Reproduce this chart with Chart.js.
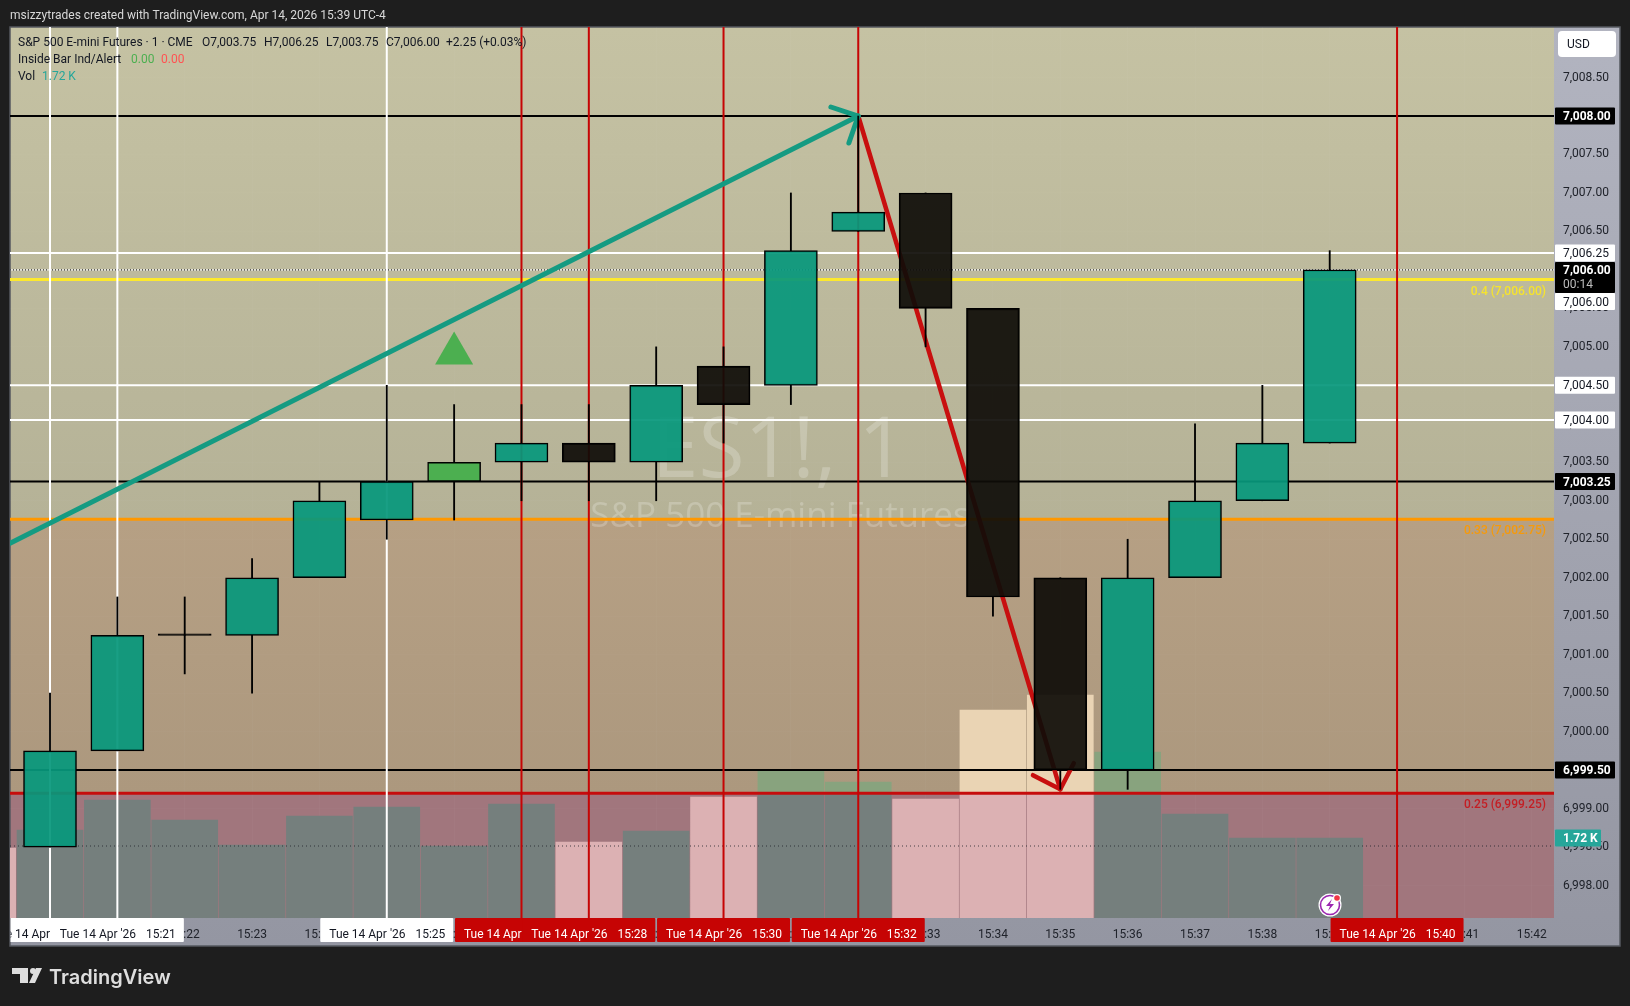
<!DOCTYPE html>
<html>
<head>
<meta charset="utf-8">
<title>ES1! 1m</title>
<style>html,body{margin:0;padding:0;background:#1e1e1e;overflow:hidden}canvas{display:block}</style>
<script src="https://cdn.jsdelivr.net/npm/chart.js@4"></script>
</head>
<body>
<canvas id="c" width="1630" height="1006" style="width:1630px;height:1006px"></canvas>
<script>
// ---- data ----
const candleTimes = ['15:20','15:21','15:22','15:23','15:24','15:25','15:26','15:27','15:28','15:29','15:30','15:31','15:32','15:33','15:34','15:35','15:36','15:37','15:38','15:39'];
const opens  = [6998.5,6999.75,7001.25,7001.25,7002,7002.75,7003.25,7003.5,7003.75,7003.5,7004.75,7004.5,7006.5,7007,7005.5,7002,6999.5,7002,7003,7003.75];
const highs  = [7000.5,7001.75,7001.75,7002.25,7003.25,7004.5,7004.25,7004.25,7004.25,7005,7005,7007,7008,7007,7005.5,7002,7002.5,7004,7004.5,7006.25];
const lows   = [6998.5,6999.75,7000.75,7000.5,7002,7002.5,7002.75,7003,7003,7003,7003.75,7004.25,7006.5,7005,7001.5,6999.25,6999.25,7002,7003,7003.75];
const closes = [6999.75,7001.25,7001.25,7002,7003,7003.25,7003.5,7003.75,7003.5,7004.5,7004.25,7006.25,7006.75,7005.5,7001.75,6999.5,7002,7003,7003.75,7006];
const volumeTimes = ['15:19','15:20','15:21','15:22','15:23','15:24','15:25','15:26','15:27','15:28','15:29','15:30','15:31','15:32','15:33','15:34','15:35','15:36','15:37','15:38','15:39'];
const volumesK = [1.505,1.892,2.537,2.107,1.57,2.193,2.387,1.548,2.451,1.634,1.87,2.6,3.182,2.924,2.559,4.472,4.795,3.569,2.236,1.72,1.72];
const volumeDown = [true,false,false,false,false,false,false,false,false,true,false,true,false,false,true,true,true,false,false,false,false];
const xTickMinutes = [20,21,22,23,24,25,26,27,28,29,30,31,32,33,34,35,36,37,38,39,40,41,42];
const yTop = 7009.1566, yBottom = 6997.578;
const xLeft = 19.406, xRight = 42.33;
const volTop = 19.157;
const blackLevels = [7008, 7003.25, 6999.5];
const whiteLevels = [7006.22, 7004.5, 7004.05];
const fibYellow = 7005.875, fibOrange = 7002.76, fibRed = 6999.2;
const lastClose = 7006, volDotted = 1.548;
const whiteVerticals = [20, 21, 25];
const redVerticals = [27, 28, 30, 32, 40];
const tealLineX = [19.406, 32], tealLineY = [7002.447, 7008];
const tealHeadX = [31.594, 32, 31.861], tealHeadY = [7008.117, 7008, 7007.649];
const redLineX = [32, 35], redLineY = [7008, 6999.25];
const redHeadX = [34.594, 35, 35.2], redHeadY = [6999.434, 6999.25, 6999.59];
const signalX = [26], signalY = [7004.915];
const tagDate = "Tue 14 Apr '26";
const whiteTagMinutes = [20, 21, 25];
const redTagMinutes = [27, 28, 30, 32, 40];

const UP = 'rgba(8,152,124,0.93)', DOWN = 'rgba(14,12,8,0.92)', INSIDE = '#4caf50';
const RED = '#c60404', TEAL = '#159b82';
const FONT = 'Roboto, sans-serif';
const minute = t => +t.slice(3);
const fmt = v => v.toLocaleString('en-US',{minimumFractionDigits:2,maximumFractionDigits:2});

const hLine = (level, color, width, dash, order, axis) => ({
  type:'line', data:[{x:xLeft,y:level},{x:xRight,y:level}], yAxisID:axis||'y',
  borderColor:color, borderWidth:width, borderDash:dash||[], pointRadius:0, order
});
const vLine = (x, color) => ({
  type:'line', data:[{x,y:yBottom},{x,y:yTop}], yAxisID:'y',
  borderColor:color, borderWidth:2, pointRadius:0, order:70
});
const path = (xs, ys, color, width) => ({
  type:'line', data:xs.map((x,i)=>({x,y:ys[i]})), yAxisID:'y',
  borderColor:color, borderWidth:width, borderCapStyle:'round', borderJoinStyle:'round', pointRadius:0, order:60
});

function volFill(ctx){
  const ch = ctx.chart, area = ch.chartArea;
  if(!area) return '#888';
  const down = volumeDown[ctx.dataIndex];
  const f = (ch.scales.y.getPixelForValue(fibRed) - area.top) / (area.bottom - area.top);
  const g = ch.ctx.createLinearGradient(0, area.top, 0, area.bottom);
  const a = down ? 'rgb(234,212,180)' : 'rgb(136,163,126)';
  const b = down ? 'rgb(220,177,179)' : 'rgb(117,127,125)';
  g.addColorStop(0,a); g.addColorStop(f,a); g.addColorStop(f,b); g.addColorStop(1,b);
  return g;
}

function txt(c, s, x, y, color, font, align){
  c.font = font; c.fillStyle = color; c.textAlign = align||'left'; c.textBaseline='middle';
  c.fillText(s, x, y);
}
function rrect(c,x,y,w,h,r,fill){ c.beginPath(); c.roundRect(x,y,w,h,r); c.fillStyle=fill; c.fill(); }

const backdrop = {
  id:'backdrop',
  beforeDraw(ch){
    const c = ch.ctx, a = ch.chartArea, S = ch.scales.y;
    c.save();
    c.fillStyle='#1e1e1e'; c.fillRect(0,0,ch.width,ch.height);
    let g = c.createLinearGradient(0,27,0,946);
    g.addColorStop(0,'rgb(178,180,192)'); g.addColorStop(1,'rgb(148,150,162)');
    c.fillStyle=g; c.fillRect(a.right,27,1620-a.right,919); c.fillRect(a.left,a.bottom,a.right-a.left,28);
    const yo = S.getPixelForValue(fibOrange), yr = S.getPixelForValue(fibRed);
    g = c.createLinearGradient(0,a.top,0,yo);
    g.addColorStop(0,'rgb(197,194,163)'); g.addColorStop(1,'rgb(181,178,151)');
    c.fillStyle=g; c.fillRect(a.left,a.top,a.right-a.left,yo-a.top);
    g = c.createLinearGradient(0,yo,0,yr);
    g.addColorStop(0,'rgb(182,160,132)'); g.addColorStop(1,'rgb(172,152,126)');
    c.fillStyle=g; c.fillRect(a.left,yo,a.right-a.left,yr-yo);
    c.fillStyle='rgb(161,118,125)'; c.fillRect(a.left,yr,a.right-a.left,a.bottom-yr);
    c.strokeStyle='#55585f'; c.lineWidth=1.5; c.strokeRect(10,27,1610,919);
    c.fillStyle='rgba(255,255,255,0.22)'; c.textAlign='center'; c.textBaseline='alphabetic';
    c.font='84px "Open Sans", sans-serif'; c.fillText('ES1!, 1',779,477);
    c.font='35px "Open Sans", sans-serif'; c.fillText('S&P 500 E-mini Futures',780,527);
    txt(c,'msizzytrades created with TradingView.com, Apr 14, 2026 15:39 UTC-4',10,16,'#d8d8d8','12px '+FONT);
    c.fillStyle='#dedede';
    c.fillRect(12,968,16,6); c.fillRect(20,968,8,15);
    c.beginPath(); c.arc(33,971,3,0,7); c.fill();
    c.beginPath(); c.moveTo(36,968); c.lineTo(42,968); c.lineTo(35,983); c.lineTo(29,983); c.closePath(); c.fill();
    txt(c,'TradingView',49,978,'#dedede','600 20px Inter, '+FONT);
    c.restore();
  },
  afterDraw(ch){
    const c = ch.ctx, a = ch.chartArea, S = ch.scales.y, X = ch.scales.x;
    c.save();
    const ink = '#131722';
    const F = '12px '+FONT, M = '500 12px '+FONT;
    txt(c,'S&P 500 E-mini Futures · 1 · CME',18,43,ink,F);
    txt(c,'O7,003.75',202,43,ink,F); txt(c,'H7,006.25',264,43,ink,F);
    txt(c,'L7,003.75',326,43,ink,F); txt(c,'C7,006.00',386,43,ink,F);
    txt(c,'+2.25 (+0.03%)',446,43,ink,F);
    txt(c,'Inside Bar Ind/Alert',18,60,ink,F);
    txt(c,'0.00',131,60,'#4caf50',F); txt(c,'0.00',161,60,'#ff5252',F);
    txt(c,'Vol',18,77,ink,F); txt(c,'1.72 K',42,77,'#26a69a',F);
    c.save(); c.beginPath(); c.rect(a.left,a.top,a.right-a.left,a.bottom-a.top); c.clip();
    txt(c,'0.4 (7,006.00)',1546,292,'#f5e32e',M,'right');
    txt(c,'0.33 (7,002.75)',1546,531,'#f59a0c',M,'right');
    txt(c,'0.25 (6,999.25)',1546,805,'#c41e24',M,'right');
    c.fillStyle='#fff'; c.beginPath(); c.arc(1330,905,11.5,0,7); c.fill();
    c.strokeStyle='#9c27b0'; c.lineWidth=1.6; c.beginPath(); c.arc(1330,905,9.5,0,7); c.stroke();
    c.fillStyle='#9c27b0'; c.beginPath();
    c.moveTo(1332,899); c.lineTo(1326,906); c.lineTo(1330,906); c.lineTo(1328,911); c.lineTo(1334,904); c.lineTo(1330,904); c.closePath(); c.fill();
    c.fillStyle='#fff'; c.beginPath(); c.arc(1337,898,4,0,7); c.fill();
    c.fillStyle='#f23645'; c.beginPath(); c.arc(1337,898,2.8,0,7); c.fill();
    c.restore();
    const L = 1555, W = 60, TX = 1563, bold = 'bold 12px '+FONT;
    const tag = (s,y,bg,fg,f) => { rrect(c,L,y-8.5,W,17,1,bg); txt(c,s,TX,y+1,fg,f||F); };
    rrect(c,1558,31,58,26,4,'#fff'); txt(c,'USD',1567,45,ink,F);
    whiteLevels.forEach((v,i)=>tag(['7,006.25','7,004.50','7,004.00'][i],S.getPixelForValue(v),'#fff',ink));
    tag('7,006.00',301.5,'#fff',ink);
    blackLevels.forEach(v=>tag(fmt(v),S.getPixelForValue(v),'#000','#fff',bold));
    const yc = S.getPixelForValue(lastClose);
    rrect(c,L,262,W,31,1,'#000');
    txt(c,fmt(lastClose),TX,yc+1,'#fff',bold);
    txt(c,'00:14',TX,284.5,'#bdbdbd',F);
    const yv = ch.scales.vol.getPixelForValue(volumesK[volumesK.length-1]);
    rrect(c,L,yv-8.5,46,17,1,'#26a69a'); txt(c,'1.72 K',TX,yv+1,'#fff',bold);
    const timeTag = (m,bg,fg)=>{
      const px = X.getPixelForValue(m), x0 = px-66.5;
      c.save(); c.beginPath(); c.rect(10.5,a.bottom,1620,28); c.clip();
      rrect(c,x0,a.bottom,133,24,1,bg);
      txt(c,tagDate,x0+9,a.bottom+16.5,fg,F);
      txt(c,'15:'+m,x0+125,a.bottom+16.5,fg,F,'right');
      c.restore();
    };
    whiteTagMinutes.forEach(m=>timeTag(m,'#fff',ink));
    redTagMinutes.forEach(m=>timeTag(m,'#c60404','#fff'));
    c.restore();
  }
};

const candleX = candleTimes.map(minute);
const wickSet = (lo, hi) => ({type:'bar', yAxisID:'y', order:3, grouped:false, barThickness:1.2,
   data:candleX.map((x,i)=>({x,y:[lo(i),hi(i)]})), backgroundColor:'#000', borderWidth:0});
const datasets = [
  {type:'bar', label:'Volume', yAxisID:'vol', order:100, grouped:false, barThickness:66,
   data:volumeTimes.map((t,i)=>({x:minute(t),y:volumesK[i]})), backgroundColor:volFill, borderWidth:0},
  hLine(volDotted,'rgba(30,34,40,0.8)',1,[1,3],95,'vol'),
  hLine(fibYellow,'#fde92c',3,[],90), hLine(fibOrange,'#ff9800',3,[],90), hLine(fibRed,'#c60c0c',3,[],90),
  ...whiteLevels.map(v=>hLine(v,'#ffffff',2,[],85)),
  hLine(lastClose,'#ffffff',1,[],84), hLine(lastClose,'#000000',1,[1,2],83),
  ...blackLevels.map(v=>hLine(v,'#000000',2,[],80)),
  ...whiteVerticals.map(x=>vLine(x,'#ffffff')),
  ...redVerticals.map(x=>vLine(x,RED)),
  path(tealLineX,tealLineY,TEAL,5), path(tealHeadX,tealHeadY,TEAL,5),
  path(redLineX,redLineY,'#c80f0f',4.5), path(redHeadX,redHeadY,'#c80f0f',4.5),
  {type:'line', yAxisID:'y', order:50, showLine:false, data:signalX.map((x,i)=>({x,y:signalY[i]})),
   pointStyle:'triangle', pointRadius:22, pointBackgroundColor:INSIDE, pointBorderWidth:0},
  wickSet(i=>lows[i], i=>Math.min(opens[i],closes[i])),
  wickSet(i=>Math.max(opens[i],closes[i]), i=>highs[i]),
  {type:'bar', label:'Bodies', yAxisID:'y', order:2, grouped:false, barThickness:53, minBarLength:1.5,
   data:candleX.map((x,i)=>({x,y:[opens[i],closes[i]]})),
   backgroundColor:candleX.map((x,i)=> x===26 ? INSIDE : (closes[i]===opens[i] ? '#000' : (closes[i]>opens[i] ? UP : DOWN))),
   borderColor:'#000', borderWidth:1.5, borderSkipped:false}
];

new Chart(document.getElementById('c'),{
  type:'bar',
  data:{datasets},
  plugins:[backdrop],
  options:{
    responsive:false, animation:false, devicePixelRatio:1, events:[],
    layout:{autoPadding:false,padding:{left:10,top:27,right:10,bottom:60}},
    plugins:{legend:{display:false},tooltip:{enabled:false}},
    scales:{
      x:{type:'linear',offset:false,min:xLeft,max:xRight,
         afterBuildTicks:s=>{s.ticks=xTickMinutes.map(value=>({value}));},
         afterFit:s=>{s.height=28;s.paddingLeft=0;s.paddingRight=0;},
         border:{display:false},
         grid:{offset:false,color:'rgba(255,255,255,0.025)',drawTicks:false},
         ticks:{autoSkip:false,maxRotation:0,padding:10,color:'#20232b',font:{family:'Roboto',size:12},callback:v=>'15:'+v}},
      y:{type:'linear',position:'right',min:yBottom,max:yTop,
         afterBuildTicks:s=>{s.ticks=s.ticks.filter(t=>t.value<=7008.5);},
         afterFit:s=>{s.width=66;s.paddingTop=0;s.paddingBottom=0;},
         border:{display:false},
         grid:{color:'rgba(255,255,255,0.02)',drawTicks:false},
         ticks:{stepSize:0.5,includeBounds:false,autoSkip:false,padding:9,color:'#20232b',font:{family:'Roboto',size:12},callback:fmt}},
      vol:{type:'linear',display:false,min:0,max:volTop}
    }
  }
});
</script>
</body>
</html>
